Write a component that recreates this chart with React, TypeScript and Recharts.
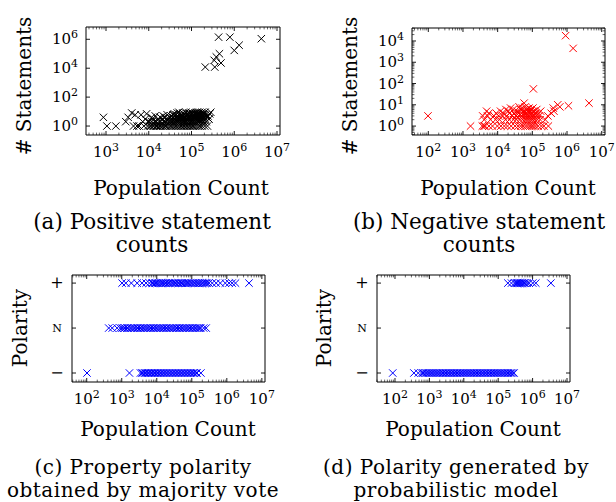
import React from "react";
import { ScatterChart, Scatter, XAxis, YAxis, ReferenceArea } from "recharts";

const SERIF = "'DejaVu Serif', serif";

// axis tick values (labelled decades)
const popTicksA = [1e3, 1e4, 1e5, 1e6, 1e7];
const popTicks = [1e2, 1e3, 1e4, 1e5, 1e6, 1e7];
const posCountTicks = [1, 1e2, 1e4, 1e6];
const negCountTicks = [1, 1e1, 1e2, 1e3, 1e4];
const polarityTicks = [-1, 0, 1];
const polarityNames = ["\u2212", "N", "+"];

// (a) positive statements: [population, count]
const positiveHigh: [number, number][] = [
  [430000, 1400000], [790000, 1400000], [4300000, 1100000], [1300000, 390000],
  [1000000, 170000], [450000, 100000], [380000, 60000], [340000, 35000],
  [490000, 23000], [210000, 12000], [350000, 12000],
];
// count -> populations
const positiveLow: [number, number[]][] = [
  [1, [1050, 1700, 4400, 5300, 5900, 7700, 9400, 10500, 11200, 12400, 13100, 14800, 15600, 16900, 18300, 19700, 21400, 23800, 25200, 27600, 30900, 33500, 36100, 39800, 43200, 47500, 52100, 56800, 61300, 66900, 72400, 78800, 85600, 93100, 101000, 109000, 118000, 131000, 146000, 159000, 178000, 204000, 236000]],
  [2, [2900, 7200, 9800, 10200, 11800, 13600, 15200, 17400, 19100, 22100, 24600, 28300, 31700, 35600, 40100, 44800, 49900, 54300, 59600, 65200, 71100, 77300, 84900, 92600, 99800, 108000, 121000, 137000, 152000, 171000, 193000, 221000]],
  [3, [8300, 12900, 16200, 20600, 26100, 29500, 34200, 38400, 42600, 48300, 53700, 60400, 67800, 74500, 81200, 89400, 97200, 106000, 116000, 128000, 143000, 161000, 183000, 214000, 258000]],
  [4, [870, 3300, 11600, 18700, 23900, 31100, 37200, 45600, 51800, 58200, 64100, 70300, 79600, 87100, 95600, 112000, 124000, 139000, 156000, 176000, 198000, 231000]],
  [5, [14200, 21800, 33000, 41300, 47100, 55400, 63800, 75800, 88200, 103000, 119000, 134000, 149000, 167000, 189000, 243000]],
  [6, [4800, 6600, 27000, 36900, 44100, 57900, 69200, 82600, 98400, 114000, 127000, 144000, 163000, 186000, 216000]],
  [7, [8900, 39500, 52800, 66100, 79100, 92100, 107000, 125000, 141000, 158000, 181000, 266000]],
  [8, [4000, 46200, 62400, 86100, 104000, 122000, 147000, 169000, 196000]],
  [9, [50600, 73600, 96800, 133000, 155000, 178000, 207000, 282000]],
];

// (b) negative statements
const negativeHigh: [number, number][] = [
  [98, 3], [1650, 1], [107000, 56], [910000, 17800], [1500000, 4500],
  [4300000, 12], [1100000, 9], [540000, 10], [58000, 12],
];
const negativeLow: [number, number[]][] = [
  [1, [3600, 4000, 4400, 5600, 7100, 9800, 12400, 15600, 19200, 24500, 31800, 38900, 46200, 54100, 63700, 72800, 84500, 96300, 108000, 124000, 147000, 182000, 215000, 290000]],
  [2, [4100, 6200, 8700, 11300, 16800, 21700, 28600, 35100, 43900, 52600, 61800, 70100, 79800, 91200, 102000, 118000, 139000, 168000, 236000]],
  [3, [3700, 5100, 7800, 10600, 13900, 18100, 25700, 33600, 41200, 50300, 59900, 68400, 77600, 88100, 99500, 114000, 133000, 159000, 280000]],
  [4, [5600, 9100, 14700, 22300, 30200, 39600, 48800, 57300, 66400, 81900, 94700, 126000, 151000, 350000]],
  [5, [4800, 12100, 20400, 36800, 55200, 74100, 86900, 112000, 174000, 420000]],
  [6, [17300, 27900, 45100, 67200, 92400, 134000]],
  [7, [23600, 51700, 79900, 104000, 400000]],
  [8, [41500, 62900, 620000]],
];

// (c) polarity by majority vote: populations per class
const majorityPlus = [1020, 1310, 1880, 2760, 3790, 4950, 6180, 7350, 7920, 8710, 9480, 10400, 11300, 12800, 13700, 15100, 16900, 18300, 20600, 22100, 24800, 27900, 29800, 33400, 36100, 40900, 43800, 49600, 53200, 58700, 66100, 71400, 78900, 86200, 97400, 104000, 118000, 126000, 143000, 155000, 169000, 191000, 206000, 233000, 249000, 276000, 311000, 384000, 497000, 652000, 905000, 1160000, 1420000, 1770000, 4300000];
const majorityNeutral = [425, 535, 738, 905, 1010, 1130, 1240, 1410, 1530, 1760, 1910, 2170, 2360, 2690, 2920, 3310, 3620, 4090, 4470, 5060, 5530, 6270, 6850, 7760, 8490, 9610, 10500, 11900, 13000, 14700, 16000, 18200, 19900, 22600, 24600, 28000, 30500, 34700, 37800, 42900, 46800, 53100, 57900, 65700, 71700, 81300, 88600, 100000, 110000, 125000, 136000, 154000, 167000, 179000, 219000, 257000];
const majorityMinus = [102, 1660, 3420, 3780, 4150, 4600, 5010, 5570, 6090, 6760, 7380, 8210, 8930, 9960, 10800, 12100, 13100, 14700, 15900, 17900, 19300, 21800, 23500, 26600, 28600, 32400, 34900, 39500, 42500, 48100, 51800, 58600, 63100, 71400, 76900, 87000, 93700, 106000, 114000, 129000, 141000, 182000];

// (d) polarity from probabilistic model
const modelPlus = [191000, 243000, 298000, 322000, 351000, 368000, 392000, 418000, 447000, 476000, 512000, 563000, 611000, 702000, 795000, 1010000, 1240000, 3400000];
const modelMinus = [86, 355, 475, 590, 650, 720, 810, 880, 985, 1090, 1210, 1330, 1490, 1640, 1830, 2010, 2260, 2480, 2770, 3050, 3410, 3760, 4190, 4620, 5160, 5690, 6340, 6990, 7810, 8600, 9590, 10600, 11800, 13000, 14500, 16000, 17800, 19700, 21900, 24200, 27000, 29800, 33200, 36700, 40900, 45100, 50300, 55500, 61900, 68300, 76100, 84000, 93700, 103000, 115000, 127000, 142000, 156000, 175000, 193000, 215000, 238000, 262000, 290000];

const pow = (e: number) => Math.pow(10, e);

function withMinor(lo: number, hi: number) {
  const out: number[] = [];
  for (let e = Math.floor(Math.log10(lo)); e <= Math.ceil(Math.log10(hi)); e++) {
    for (let k = 1; k <= 9; k++) {
      const v = k * pow(e);
      if (v >= lo && v <= hi) out.push(v);
    }
  }
  return out;
}

const pairs = (rows: [number, number][]) => rows.map(([x, y]) => ({ x, y }));
const byCount = (rows: [number, number[]][]) =>
  rows.flatMap(([y, xs]) => xs.map((x) => ({ x, y })));
const level = (xs: number[], y: number) => xs.map((x) => ({ x, y }));

const cross = (color: string) => (p: any) => {
  const { cx, cy } = p;
  const r = 3.7;
  return (
    <path
      d={`M${cx - r},${cy - r}L${cx + r},${cy + r}M${cx - r},${cy + r}L${cx + r},${cy - r}`}
      stroke={color}
      strokeWidth={1}
      fill="none"
    />
  );
};

const Pow10 = ({ v }: { v: number }) => (
  <>
    10
    <tspan dy={-6} fontSize={11}>
      {Math.round(Math.log10(v))}
    </tspan>
  </>
);

function makeXTick(majors: number[], plotH: number) {
  return (p: any) => {
    const { x, y, payload } = p;
    const v = payload.value as number;
    const major = majors.includes(v);
    const len = major ? 4 : 2.4;
    const sw = major ? 0.9 : 0.6;
    return (
      <g>
        <line x1={x} x2={x} y1={y} y2={y - len} stroke="#000" strokeWidth={sw} />
        <line x1={x} x2={x} y1={y - plotH} y2={y - plotH + len} stroke="#000" strokeWidth={sw} />
        {major && (
          <text x={x} y={y + 22} textAnchor="middle" fontFamily={SERIF} fontSize={15} fill="#000">
            <Pow10 v={v} />
          </text>
        )}
      </g>
    );
  };
}

function makeLogYTick(majors: number[], plotW: number) {
  return (p: any) => {
    const { x, y, payload } = p;
    const v = payload.value as number;
    const major = majors.includes(v);
    const len = major ? 4 : 2.4;
    const sw = major ? 0.9 : 0.6;
    return (
      <g>
        <line x1={x} x2={x + len} y1={y} y2={y} stroke="#000" strokeWidth={sw} />
        <line x1={x + plotW} x2={x + plotW - len} y1={y} y2={y} stroke="#000" strokeWidth={sw} />
        {major && (
          <text x={x - 8} y={y + 5} textAnchor="end" fontFamily={SERIF} fontSize={15} fill="#000">
            <Pow10 v={v} />
          </text>
        )}
      </g>
    );
  };
}

function makePolarityTick(plotW: number) {
  return (p: any) => {
    const { x, y, payload } = p;
    const i = polarityTicks.indexOf(payload.value);
    const name = polarityNames[i];
    return (
      <g>
        <line x1={x} x2={x + 4} y1={y} y2={y} stroke="#000" strokeWidth={0.9} />
        <line x1={x + plotW} x2={x + plotW - 4} y1={y} y2={y} stroke="#000" strokeWidth={0.9} />
        <text
          x={x - 15}
          y={name === "N" ? y + 4 : y + 5}
          textAnchor="middle"
          fontFamily={SERIF}
          fontSize={name === "N" ? 11 : 16}
          fill="#000"
        >
          {name}
        </text>
      </g>
    );
  };
}

interface PanelProps {
  box: [number, number, number, number];
  plot: [number, number, number, number];
  xDomain: [number, number];
  yDomain: [number, number];
  xMajors: number[];
  yTicks: number[];
  yLog: boolean;
  yTick: (plotW: number) => (p: any) => React.ReactElement;
  data: { x: number; y: number }[];
  color: string;
}

function Panel({ box, plot, xDomain, yDomain, xMajors, yTicks, yLog, yTick, data, color }: PanelProps) {
  const [bx, by, bw, bh] = box;
  const [l, t, r, b] = plot;
  const plotW = r - l;
  const plotH = b - t;
  return (
    <div style={{ position: "absolute", left: bx, top: by }}>
      <ScatterChart
        width={bw}
        height={bh}
        margin={{ top: t - by, right: bx + bw - r, bottom: 0, left: 0 }}
      >
        <XAxis
          type="number"
          dataKey="x"
          scale="log"
          domain={xDomain}
          allowDataOverflow
          ticks={withMinor(xDomain[0], xDomain[1])}
          interval={0}
          tick={makeXTick(xMajors, plotH)}
          tickLine={false}
          axisLine={false}
          tickSize={0}
          tickMargin={0}
          height={by + bh - b}
        />
        <YAxis
          type="number"
          dataKey="y"
          scale={yLog ? "log" : "linear"}
          domain={yDomain}
          allowDataOverflow
          ticks={yTicks}
          interval={0}
          tick={yTick(plotW)}
          tickLine={false}
          axisLine={false}
          tickSize={0}
          tickMargin={0}
          width={l - bx}
        />
        <ReferenceArea
          x1={xDomain[0]}
          x2={xDomain[1]}
          y1={yDomain[0]}
          y2={yDomain[1]}
          fill="none"
          stroke="#000"
          strokeWidth={1}
          ifOverflow="visible"
        />
        <Scatter data={data} shape={cross(color)} isAnimationActive={false} />
      </ScatterChart>
    </div>
  );
}

const Label = ({ x, y, size, children, rotate, spacing }: any) => (
  <text
    x={x}
    y={y}
    textAnchor="middle"
    fontFamily={SERIF}
    fontSize={size}
    letterSpacing={spacing}
    fill="#000"
    transform={rotate ? `rotate(-90 ${x} ${y})` : undefined}
  >
    {children}
  </text>
);

export default function App() {
  const negDomain: [number, number] = [pow(-0.42), pow(4.61)];
  return (
    <div style={{ position: "absolute", left: 0, top: 0, width: 616, height: 502, background: "#fff" }}>
      <Panel
        box={[0, 0, 308, 170]}
        plot={[86, 27, 280, 135]}
        xDomain={[pow(2.532), pow(7.07)]}
        yDomain={[pow(-0.62), pow(6.85)]}
        xMajors={popTicksA}
        yTicks={posCountTicks}
        yLog
        yTick={(w) => makeLogYTick(posCountTicks, w)}
        data={[...pairs(positiveHigh), ...byCount(positiveLow)]}
        color="#000"
      />
      <Panel
        box={[308, 0, 308, 170]}
        plot={[412, 28, 605, 135]}
        xDomain={[pow(1.53), pow(7.095)]}
        yDomain={negDomain}
        xMajors={popTicks}
        yTicks={withMinor(negDomain[0], negDomain[1])}
        yLog
        yTick={(w) => makeLogYTick(negCountTicks, w)}
        data={[...pairs(negativeHigh), ...byCount(negativeLow)]}
        color="#ff0000"
      />
      <Panel
        box={[0, 250, 308, 160]}
        plot={[72, 275, 265, 382]}
        xDomain={[pow(1.58), pow(7.09)]}
        yDomain={[-1.2, 1.18]}
        xMajors={popTicks}
        yTicks={polarityTicks}
        yLog={false}
        yTick={makePolarityTick}
        data={[...level(majorityPlus, 1), ...level(majorityNeutral, 0), ...level(majorityMinus, -1)]}
        color="#0000ff"
      />
      <Panel
        box={[308, 250, 308, 160]}
        plot={[377, 275, 570, 382]}
        xDomain={[pow(1.477), pow(7.087)]}
        yDomain={[-1.2, 1.18]}
        xMajors={popTicks}
        yTicks={polarityTicks}
        yLog={false}
        yTick={makePolarityTick}
        data={[...level(modelPlus, 1), ...level(modelMinus, -1)]}
        color="#0000ff"
      />
      <svg
        width={616}
        height={502}
        style={{ position: "absolute", left: 0, top: 0, pointerEvents: "none" }}
      >
        <Label x={31} y={86} size={20} rotate>
          # Statements
        </Label>
        <Label x={357} y={86} size={20} rotate>
          # Statements
        </Label>
        <Label x={27} y={328} size={20} rotate>
          Polarity
        </Label>
        <Label x={331} y={328} size={20} rotate>
          Polarity
        </Label>
        <Label x={181} y={195} size={20}>Population Count</Label>
        <Label x={508} y={195} size={20}>Population Count</Label>
        <Label x={168} y={436} size={20}>Population Count</Label>
        <Label x={473} y={436} size={20}>Population Count</Label>
        <Label x={152} y={229} size={21.5}>(a) Positive statement</Label>
        <Label x={152} y={252} size={21.5}>counts</Label>
        <Label x={479} y={229} size={21.5}>(b) Negative statement</Label>
        <Label x={479} y={252} size={21.5}>counts</Label>
        <Label x={143} y={474} size={20} spacing={0.5}>(c) Property polarity</Label>
        <Label x={143} y={497} size={20} spacing={0.5}>obtained by majority vote</Label>
        <Label x={456} y={474} size={20} spacing={0.5}>(d) Polarity generated by</Label>
        <Label x={456} y={497} size={20} spacing={0.5}>probabilistic model</Label>
      </svg>
    </div>
  );
}
